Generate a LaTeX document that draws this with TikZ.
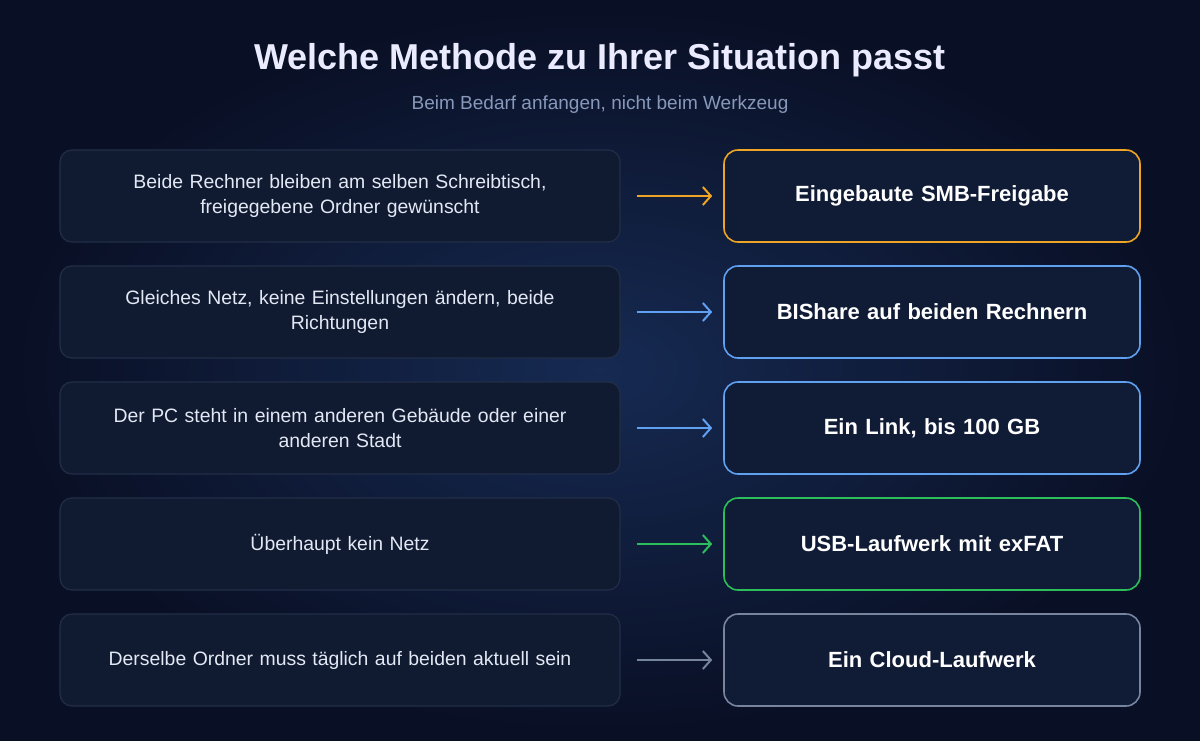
\documentclass[tikz,border=0pt]{standalone}
\usepackage{fontspec}
\setmainfont{Liberation Sans}
\usetikzlibrary{arrows.meta}
\definecolor{bgout}{RGB}{9,15,36}
\definecolor{bgin}{RGB}{22,42,82}
\definecolor{leftfill}{RGB}{16,26,48}
\definecolor{leftdraw}{RGB}{34,46,72}
\definecolor{rightfill}{RGB}{16,27,54}
\definecolor{lefttext}{RGB}{226,233,245}
\definecolor{subtext}{RGB}{136,152,186}
\definecolor{corange}{RGB}{238,164,36}
\definecolor{cblue}{RGB}{96,160,240}
\definecolor{cgreen}{RGB}{44,190,90}
\definecolor{cgray}{RGB}{118,132,158}
\tikzset{
  situation/.style={draw=leftdraw, line width=1.2pt, fill=leftfill, rounded corners=12pt,
    minimum width=560pt, minimum height=92pt, text width=520pt, align=center,
    text=lefttext, font=\fontsize{19.4}{25}\selectfont, inner sep=0pt},
  method/.style={draw=#1, line width=1.6pt, fill=rightfill, rounded corners=14pt,
    minimum width=416pt, minimum height=92pt, text width=390pt, align=center,
    text=white, font=\fontsize{22}{26}\selectfont\bfseries, inner sep=0pt},
  link/.style={draw=#1, line width=2pt, -{Straight Barb[length=8pt,width=18pt,line width=2pt]}, shorten <=16pt, shorten >=11pt}
}
\begin{document}
\begin{tikzpicture}[x=1pt,y=-1pt]
\shade[inner color=bgin, outer color=bgout] (0,0) rectangle (1200,740);
\useasboundingbox (0,0) rectangle (1200,740);
\node[text=white!92!blue, font=\fontsize{36}{40}\selectfont\bfseries] (title) at (600,60) {Welche Methode zu Ihrer Situation passt};
\node[text=subtext, font=\fontsize{19}{22}\selectfont] (sub) at (600,105) {Beim Bedarf anfangen, nicht beim Werkzeug};

\node[situation] (s1) at (340,196) {Beide Rechner bleiben am selben Schreibtisch,\\freigegebene Ordner gewünscht};
\node[situation] (s2) at (340,312) {Gleiches Netz, keine Einstellungen ändern, beide\\Richtungen};
\node[situation] (s3) at (340,428) {Der PC steht in einem anderen Gebäude oder einer\\anderen Stadt};
\node[situation] (s4) at (340,544) {Überhaupt kein Netz};
\node[situation] (s5) at (340,660) {Derselbe Ordner muss täglich auf beiden aktuell sein};

\node[method=corange] (m1) at (932,196) {Eingebaute SMB-Freigabe};
\node[method=cblue] (m2) at (932,312) {BIShare auf beiden Rechnern};
\node[method=cblue] (m3) at (932,428) {Ein Link, bis 100 GB};
\node[method=cgreen] (m4) at (932,544) {USB-Laufwerk mit exFAT};
\node[method=cgray] (m5) at (932,660) {Ein Cloud-Laufwerk};

\draw[link=corange] (s1) -- (m1);
\draw[link=cblue] (s2) -- (m2);
\draw[link=cblue] (s3) -- (m3);
\draw[link=cgreen] (s4) -- (m4);
\draw[link=cgray] (s5) -- (m5);
\end{tikzpicture}
\end{document}
